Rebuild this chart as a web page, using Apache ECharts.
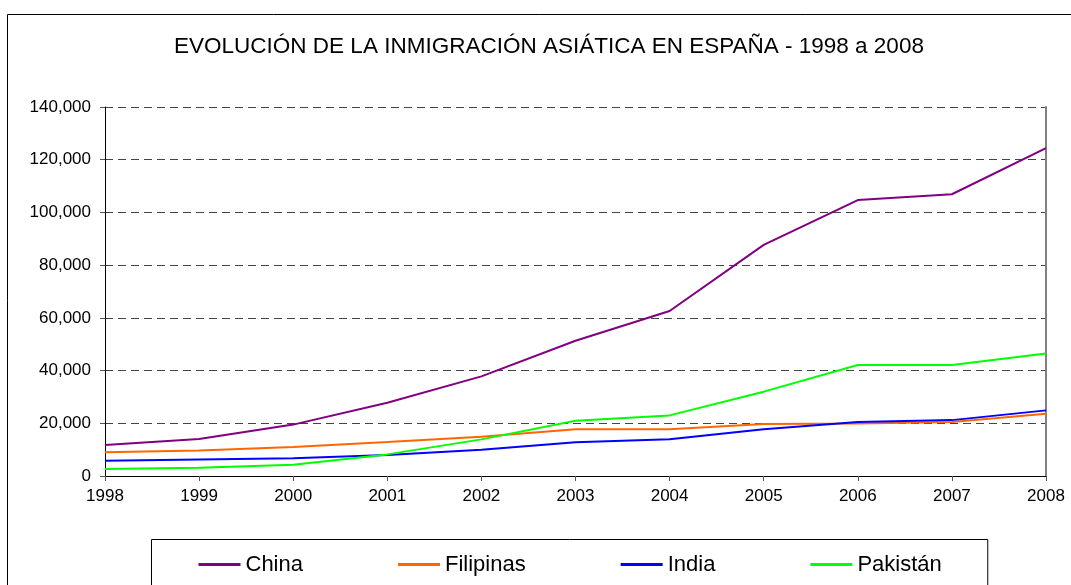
<!DOCTYPE html>
<html>
<head>
<meta charset="utf-8">
<title>Evolución de la inmigración asiática en España</title>
<script src="https://cdn.jsdelivr.net/npm/echarts@6/dist/echarts.min.js"></script>
<style>
  html, body { margin: 0; padding: 0; background: #fff; }
  #myChart { width: 1071px; height: 585px; }
</style>
</head>
<body>
<div id="myChart"></div>
<script>
// años (eje x)
var years = ["1998", "1999", "2000", "2001", "2002", "2003", "2004", "2005", "2006", "2007", "2008"];
// valores
var china = [11800, 14000, 19500, 27800, 37800, 51300, 62600, 87700, 104700, 106900, 124400];
var filipinas = [9000, 9700, 11000, 12900, 14900, 17700, 17700, 19700, 19900, 20500, 23600];
var india = [5800, 6300, 6700, 8000, 10000, 12800, 13900, 17700, 20500, 21200, 24900];
var pakistan = [2700, 3100, 4300, 8200, 13900, 21000, 23000, 32000, 42100, 42100, 46500];
var yTicks = [0, 20000, 40000, 60000, 80000, 100000, 120000, 140000];

var font = "Liberation Sans, Arial, sans-serif";

function makeSeries(name, data, color) {
  return {
    name: name,
    type: "line",
    data: data,
    yAxisIndex: 0,
    showSymbol: false,
    symbol: "none",
    lineStyle: { color: color, width: 2 },
    itemStyle: { color: color }
  };
}

var chart = echarts.init(document.getElementById("myChart"));
chart.setOption({
  animation: false,
  backgroundColor: "#fff",
  textStyle: { fontFamily: font },
  title: {
    text: "EVOLUCIÓN DE LA INMIGRACIÓN ASIÁTICA EN ESPAÑA - 1998 a 2008",
    left: 544,
    textAlign: "center",
    top: 30,
    textStyle: { fontFamily: font, fontSize: 22.5, fontWeight: "normal", color: "#000" }
  },
  // marco exterior del gráfico
  graphic: [{
    type: "rect",
    shape: { x: 7.5, y: 14.5, width: 1100, height: 620 },
    style: { fill: null, stroke: "#000", lineWidth: 1 },
    silent: true,
    z: -1
  }],
  legend: {
    left: 151.5,
    top: 539.5,
    orient: "horizontal",
    padding: [14, 46, 40, 47],
    itemGap: 95,
    itemWidth: 42,
    itemHeight: 3,
    icon: "rect",
    borderColor: "#000",
    borderWidth: 1,
    selectedMode: false,
    textStyle: { fontFamily: font, fontSize: 22, color: "#000", padding: [0, 0, 0, 0] },
    data: ["China", "Filipinas", "India", "Pakistán"]
  },
  grid: { left: 105, right: 25, top: 107, bottom: 109, containLabel: false },
  xAxis: {
    type: "category",
    boundaryGap: false,
    data: years,
    axisLine: { lineStyle: { color: "#000", width: 1 } },
    axisTick: { show: true, length: 5, lineStyle: { color: "#555" } },
    axisLabel: { fontFamily: font, fontSize: 17, color: "#000", margin: 12 },
    splitLine: { show: false }
  },
  yAxis: [{
    type: "value",
    min: yTicks[0],
    max: yTicks[yTicks.length - 1],
    interval: 20000,
    axisLine: { show: true, lineStyle: { color: "#000", width: 1 } },
    axisTick: { show: true, length: 5, lineStyle: { color: "#555" } },
    axisLabel: {
      fontFamily: font, fontSize: 17, color: "#000", margin: 14,
      formatter: function (v) { return v.toLocaleString("en-US"); }
    },
    splitLine: { show: true, lineStyle: { color: "#444", width: 1, type: [8, 5] } }
  }, {
    // borde derecho del área de trazado
    type: "value",
    position: "right",
    min: yTicks[0],
    max: yTicks[yTicks.length - 1],
    interval: 20000,
    axisLine: { show: true, lineStyle: { color: "#808080", width: 2 } },
    axisTick: { show: false },
    axisLabel: { show: false },
    splitLine: { show: false }
  }],
  series: [
    makeSeries("China", china, "#800080"),
    makeSeries("Filipinas", filipinas, "#FF6600"),
    makeSeries("India", india, "#0000FF"),
    makeSeries("Pakistán", pakistan, "#00FF00")
  ]
});
</script>
</body>
</html>
